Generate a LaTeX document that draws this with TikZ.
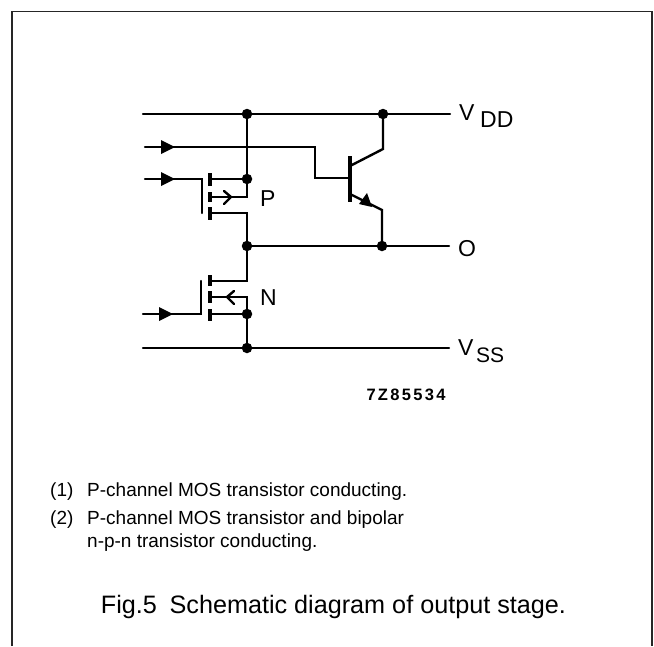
\documentclass[tikz,border=0pt]{standalone}
\usepackage{fontspec}
\setmainfont{Liberation Sans}
\usetikzlibrary{calc}
\tikzset{
  x=1pt,y=-1pt,
  wire/.style={line width=2.4pt,line cap=round,line join=miter},
  frameline/.style={line width=1.6pt,black!85},
  bar/.style={line width=4.2pt},
  jdot/.style={circle,fill=black,inner sep=0pt,minimum size=10.5pt},
  tip/.style={fill=black,draw=none},
  lab/.style={inner sep=0pt,anchor=base west,font=\fontsize{23}{23}\selectfont},
  sublab/.style={inner sep=0pt,anchor=base west,font=\fontsize{23}{23}\selectfont},
  note/.style={inner sep=0pt,anchor=base west,font=\fontsize{19}{19}\selectfont},
}
\begin{document}
\begin{tikzpicture}
\useasboundingbox (0,0) rectangle (654,646);
\fill[white] (0,0) rectangle (654,646);
\draw[frameline] (12,646) -- (12,11.5) -- (652,11.5) -- (652,646);
% rails
\coordinate (vddL) at (143,114); \coordinate (vddR) at (450,114);
\coordinate (oL) at (247,246);   \coordinate (oR) at (449,246);
\coordinate (vssL) at (143,348); \coordinate (vssR) at (449,348);
\node[jdot] (j1) at (247,114) {};
\node[jdot] (j2) at (383,114) {};
\node[jdot] (j3) at (247,179) {};
\node[jdot] (j4) at (247,246) {};
\node[jdot] (j5) at (382,246) {};
\node[jdot] (j6) at (247,314) {};
\node[jdot] (j7) at (247,348) {};
\draw[wire] (vddL) -- (vddR);
\draw[wire] (oL) -- (oR);
\draw[wire] (vssL) -- (vssR);
% base input
\coordinate (bIn) at (145,147); \coordinate (b1) at (315,147); \coordinate (b2) at (315,178); \coordinate (bB) at (350,178);
\draw[wire] (bIn) -- (b1) -- (b2) -- (bB);
\fill[tip] (161,140) -- (175,147) -- (161,154) -- cycle;
% bipolar
\coordinate (bT) at (350,156); \coordinate (bD) at (350,202);
\draw[bar] (bT) -- (bD);
\coordinate (c1) at (350,166); \coordinate (c2) at (383,149);
\draw[wire] (c1) -- (c2) -- (j2);
\coordinate (e1) at (350,194); \coordinate (e2) at (382,210);
\draw[wire] (e1) -- (e2) -- (j5);
\fill[tip] (367,193) -- (372,207) -- (359,204) -- cycle;
% P transistor
\coordinate (pIn) at (145,179); \coordinate (pG) at (202,179); \coordinate (pGb) at (202,213);
\draw[wire] (pIn) -- (pG) -- (pGb);
\fill[tip] (161,172) -- (175,179) -- (161,186) -- cycle;
\draw[bar] (210,173) -- (210,186);
\draw[bar] (210,192) -- (210,202);
\draw[bar] (210,207) -- (210,220);
\draw[wire] (210,179) -- (j3);
\draw[wire] (j1) -- (247,197) -- (210,197);
\draw[wire] (224,191) -- (231,197) -- (224,204);
\draw[wire] (210,213) -- (247,213) -- (j4);
% N transistor
\draw[wire] (j4) -- (247,281) -- (210,281);
\draw[bar] (210,275) -- (210,286);
\draw[bar] (210,291) -- (210,303);
\draw[bar] (210,309) -- (210,321);
\draw[wire] (210,297) -- (247,297) -- (j6);
\draw[wire] (234,291) -- (227,297) -- (234,304);
\draw[wire] (210,314) -- (j6) -- (j7);
\coordinate (nIn) at (143,314); \coordinate (nG) at (201,314); \coordinate (nGt) at (201,281);
\draw[wire] (nIn) -- (nG) -- (nGt);
\fill[tip] (159,307) -- (173,314) -- (159,321) -- cycle;
% labels
\node[lab] (lP) at (260,206) {P};
\node[lab] (lN) at (260,305) {N};
\node[lab] (lV1) at (459,120) {V};
\node[sublab] (lD) at (480,127) {DD};
\node[lab] (lO) at (458,256) {O};
\node[lab] (lV2) at (458,355) {V};
\node[sublab,font=\fontsize{21}{21}\selectfont] (lS) at (476,362) {SS};
\node[inner sep=0pt,font=\fontsize{16.5}{17}\bfseries\selectfont,anchor=base] (code) at (406,400) {\addfontfeature{LetterSpace=14}7Z85534};
\node[note] (n1) at (50,496) {(1)};
\node[note] (n1t) at (87,496) {P-channel MOS transistor conducting.};
\node[note] (n2) at (50,524) {(2)};
\node[note] (n2t) at (87,524) {P-channel MOS transistor and bipolar};
\node[note] (n3t) at (87,547) {n-p-n transistor conducting.};
\node[inner sep=0pt,anchor=base,font=\fontsize{25.2}{25}\selectfont] (cap) at (333.5,613) {Fig.5\hspace{0.5em}Schematic diagram of output stage.};
\end{tikzpicture}
\end{document}
